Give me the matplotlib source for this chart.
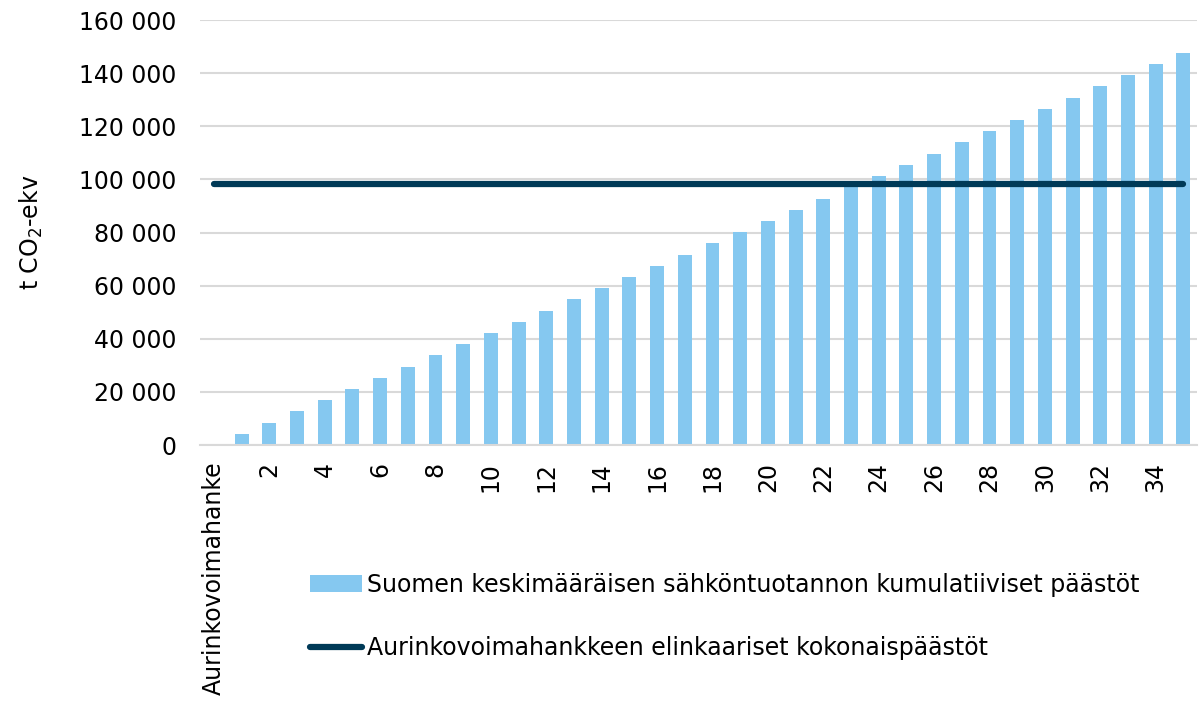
import numpy as np
import matplotlib
matplotlib.use("Agg")
import matplotlib.pyplot as plt

plt.rcParams["font.family"] = ["DejaVu Sans"]

categories = ["Aurinkovoimahanke"] + [str(i) for i in range(1, 36)]
cumulative = [0, 4200, 8400, 12700, 16900, 21100, 25300, 29500, 33800, 38000,
              42200, 46400, 50600, 54900, 59100, 63300, 67500, 71700, 76000,
              80200, 84400, 88600, 92800, 97100, 101300, 105500, 109700,
              113900, 118100, 122400, 126600, 130800, 135000, 139200, 143500,
              147700]
lifecycle_total = 98400

bar_label = "Suomen keskimääräisen sähköntuotannon kumulatiiviset päästöt"
line_label = "Aurinkovoimahankkeen elinkaariset kokonaispäästöt"

fs = 17

fig = plt.figure(figsize=(12, 7.02), dpi=100)
ax = fig.add_axes([0.1667, 0.366, 0.831, 0.6055])

x = np.arange(len(categories))
bars = ax.bar(x, cumulative, width=0.5, color="#85C8F0", label=bar_label, zorder=2)
line, = ax.plot([x[0], x[-1]], [lifecycle_total, lifecycle_total], color="#003A57",
                lw=4.5, solid_capstyle="round", label=line_label, zorder=3)

ax.set_xlim(-0.5, 35.5)
ax.set_ylim(0, 160000)
ax.set_yticks(np.arange(0, 160001, 20000))
ax.set_yticklabels([f"{v:,}".replace(",", " ") for v in range(0, 160001, 20000)],
                   fontsize=fs)
ax.yaxis.grid(True, color="#d9d9d9", lw=1.5, zorder=0)
ax.set_axisbelow(True)

ticks = [0] + list(range(2, 36, 2))
ax.set_xticks(ticks)
ax.set_xticklabels([categories[i] for i in ticks], rotation=90, fontsize=fs,
                   va="top")
ax.tick_params(axis="both", length=0)
ax.tick_params(axis="x", pad=12)
ax.tick_params(axis="y", pad=17)

for s in ["top", "right", "left"]:
    ax.spines[s].set_visible(False)
ax.spines["bottom"].set_color("#d9d9d9")
ax.spines["bottom"].set_linewidth(1.5)

ax.set_ylabel("t CO$_2$-ekv", fontsize=fs)
ax.yaxis.set_label_coords(-0.1555, 0.5)

fig.legend(handles=[bars, line], labels=[bar_label, line_label],
           loc="center left", bbox_to_anchor=(0.258, 0.1218),
           frameon=False, fontsize=fs, handlelength=2.2, handletextpad=0.25,
           labelspacing=1.65, borderpad=0, borderaxespad=0)

fig.savefig("out.png", dpi=100)
